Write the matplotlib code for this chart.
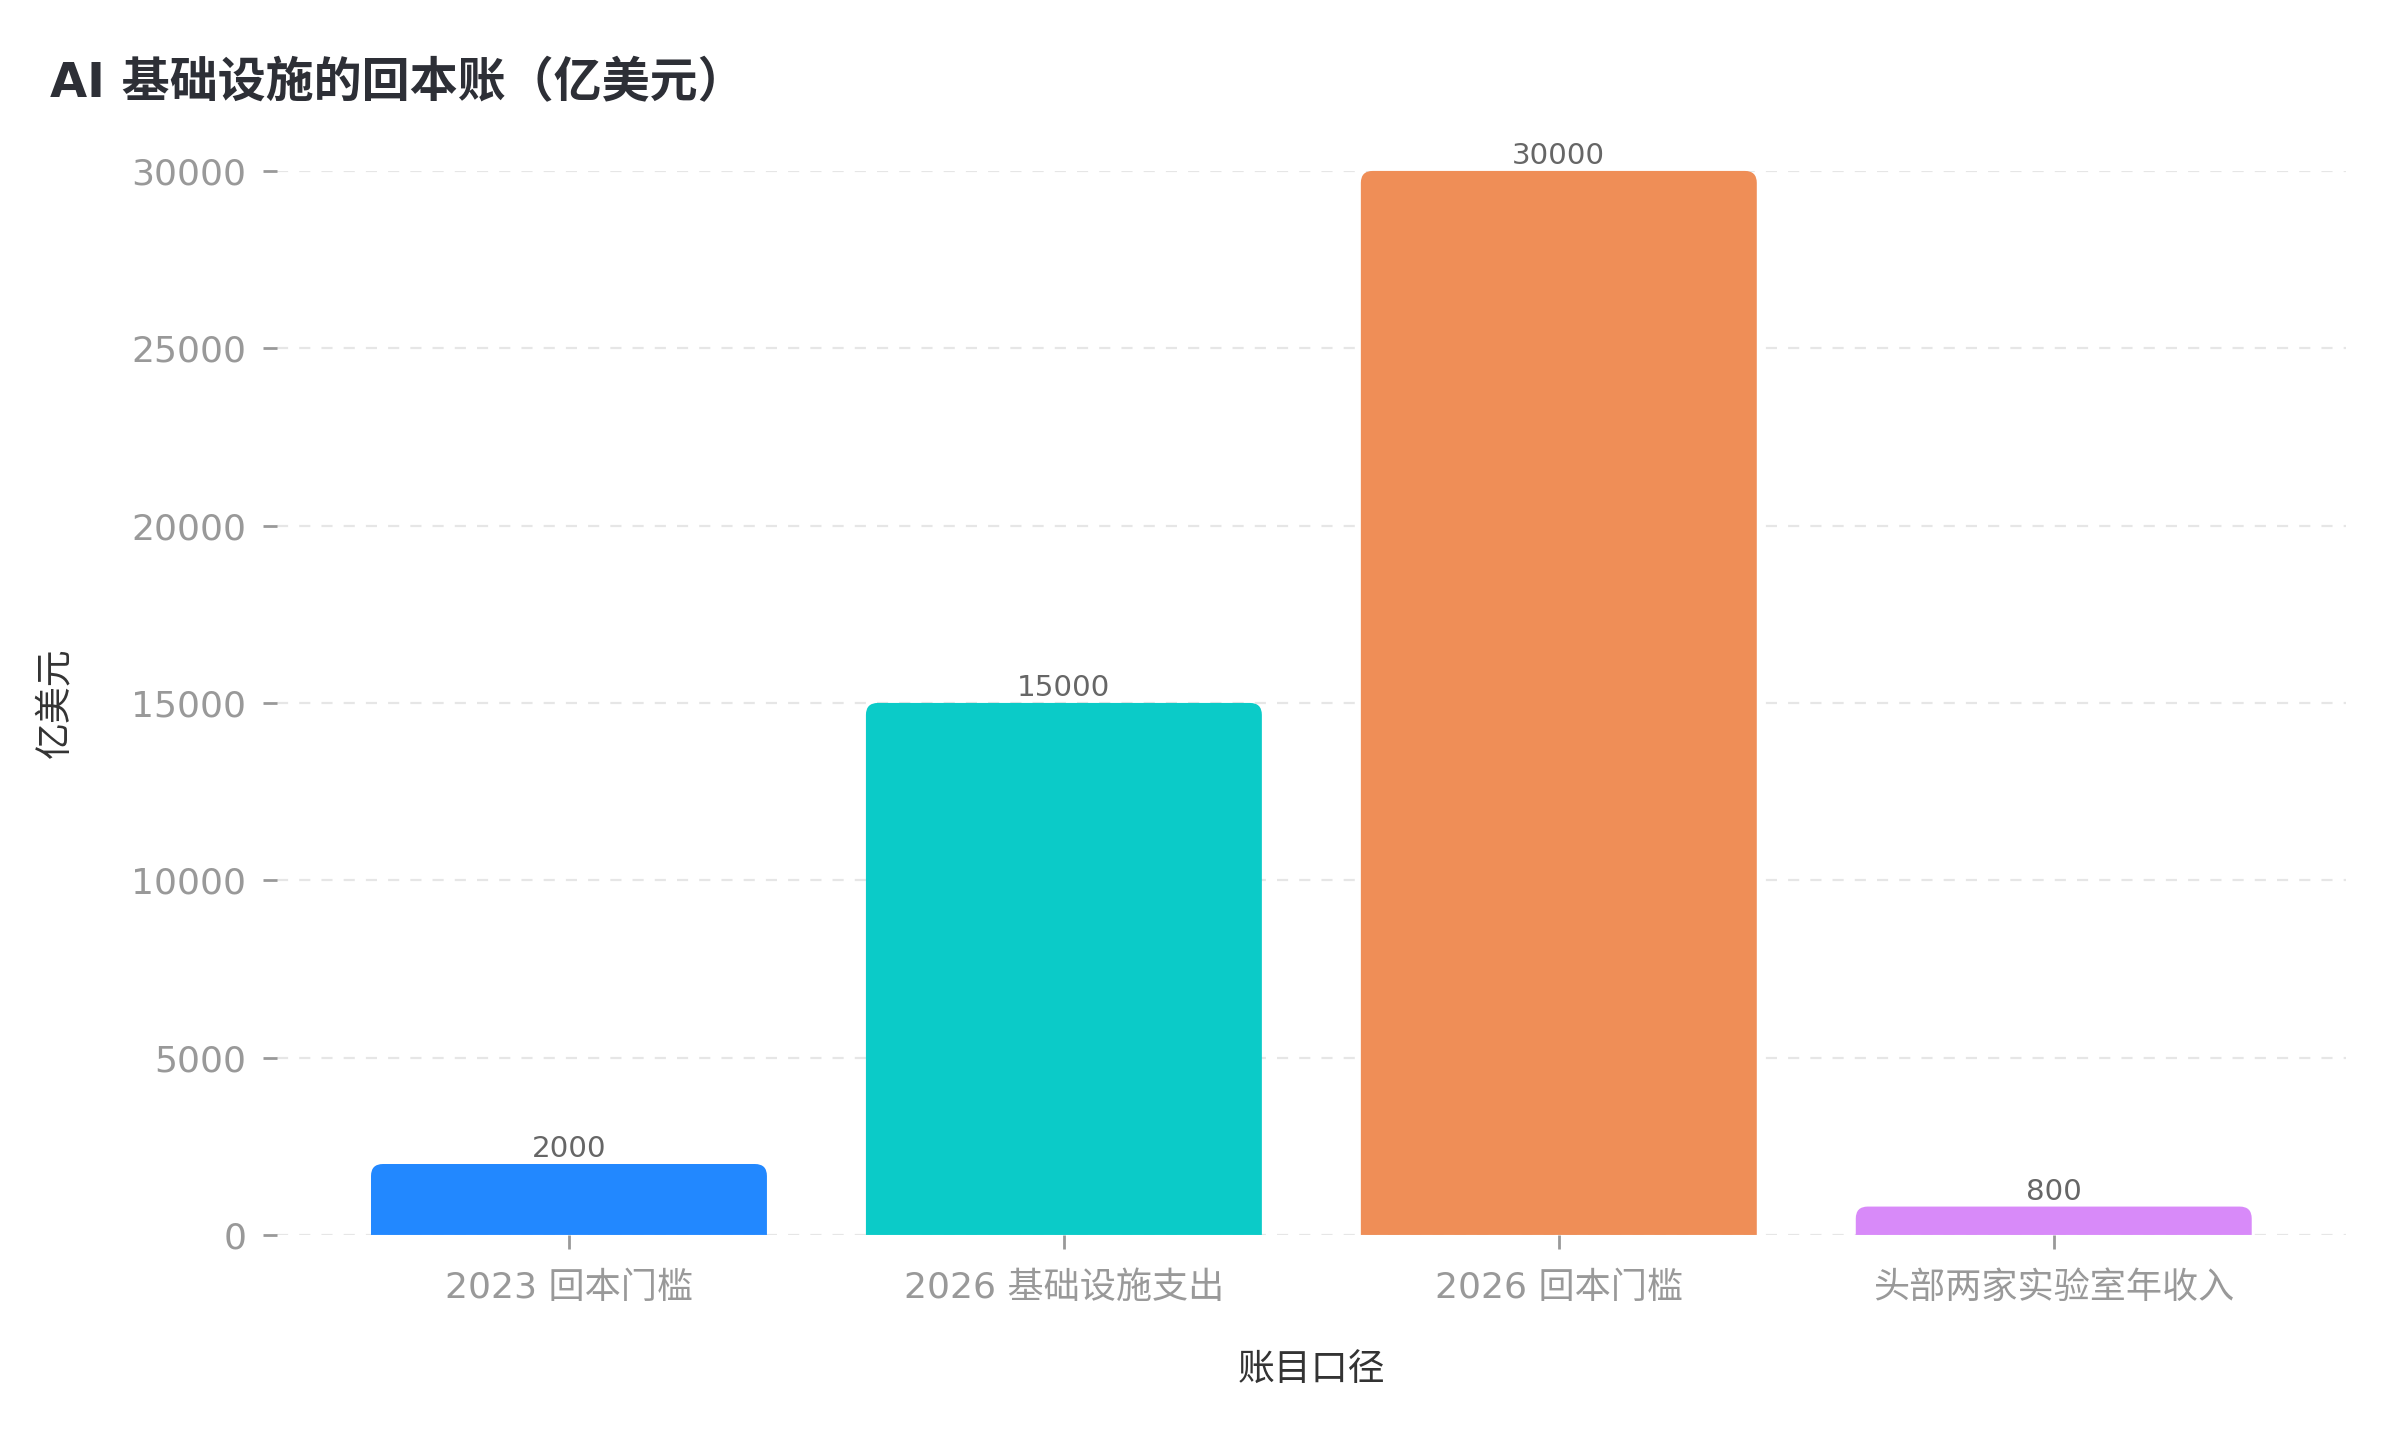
import matplotlib
matplotlib.use("Agg")
import matplotlib.pyplot as plt
from matplotlib.path import Path
from matplotlib.patches import PathPatch

plt.rcParams['font.family'] = ['DejaVu Sans', 'Noto Sans CJK SC']

categories = ["2023 回本门槛", "2026 基础设施支出", "2026 回本门槛", "头部两家实验室年收入"]
values = [2000, 15000, 30000, 800]
colors = ["#2288ff", "#0bcbc8", "#ef8e57", "#d88af9"]
yticks = [0, 5000, 10000, 15000, 20000, 25000, 30000]

fig = plt.figure(figsize=(12, 7.2), dpi=200)
ax = fig.add_axes([0.1154, 0.1424, 0.862, 0.7389])

bars = ax.bar(range(len(categories)), values, width=0.8, color=colors, zorder=2)
ax.set_ylim(0, 30000)
ax.set_xlim(-0.59, len(categories) - 1 + 0.59)

# rounded top corners
fig.canvas.draw()
radius_px = 12
inv = ax.transData.inverted()
p0 = inv.transform((0, 0))
p1 = inv.transform((radius_px, radius_px))
rx = p1[0] - p0[0]
ry = p1[1] - p0[1]
for i, b in enumerate(bars):
    x0, y0 = b.get_x(), b.get_y()
    w, h = b.get_width(), b.get_height()
    r_y = min(ry, h / 2)
    verts = [(x0, y0), (x0, y0 + h - r_y), (x0, y0 + h), (x0 + rx, y0 + h),
             (x0 + w - rx, y0 + h), (x0 + w, y0 + h), (x0 + w, y0 + h - r_y),
             (x0 + w, y0), (x0, y0)]
    codes = [Path.MOVETO, Path.LINETO, Path.CURVE3, Path.CURVE3, Path.LINETO,
             Path.CURVE3, Path.CURVE3, Path.LINETO, Path.CLOSEPOLY]
    patch = PathPatch(Path(verts, codes), facecolor=b.get_facecolor(),
                      edgecolor='none', zorder=2, clip_on=False)
    ax.add_patch(patch)
    b.set_visible(False)
    ax.annotate(f"{values[i]}", (x0 + w / 2, y0 + h),
                xytext=(0, 0.3), textcoords='offset points', ha='center', va='bottom',
                fontsize=10.6, color='#666666', annotation_clip=False)

ax.set_yticks(yticks)
ax.set_xticks(range(len(categories)))
ax.set_xticklabels(categories)
ax.tick_params(axis='both', colors='#999999', labelcolor='#999999', labelsize=13,
               length=5, width=1)
ax.tick_params(axis='x', pad=8)
ax.tick_params(axis='y', pad=6)
for s in ax.spines.values():
    s.set_visible(False)
ax.yaxis.grid(True, linestyle=(0, (5, 5)), color='#e6e6e6', linewidth=0.8, zorder=0)
ax.set_axisbelow(True)

ax.set_xlabel("账目口径", fontsize=13.3, color='#333333', labelpad=17)
ax.set_ylabel("亿美元", fontsize=13.3, color='#333333', labelpad=21)

fig.text(0.021, 0.942, "AI 基础设施的回本账（亿美元）", fontsize=17.3, fontweight='bold',
         color='#2d2f36', ha='left', va='center')

fig.savefig("out.png", dpi=200)
